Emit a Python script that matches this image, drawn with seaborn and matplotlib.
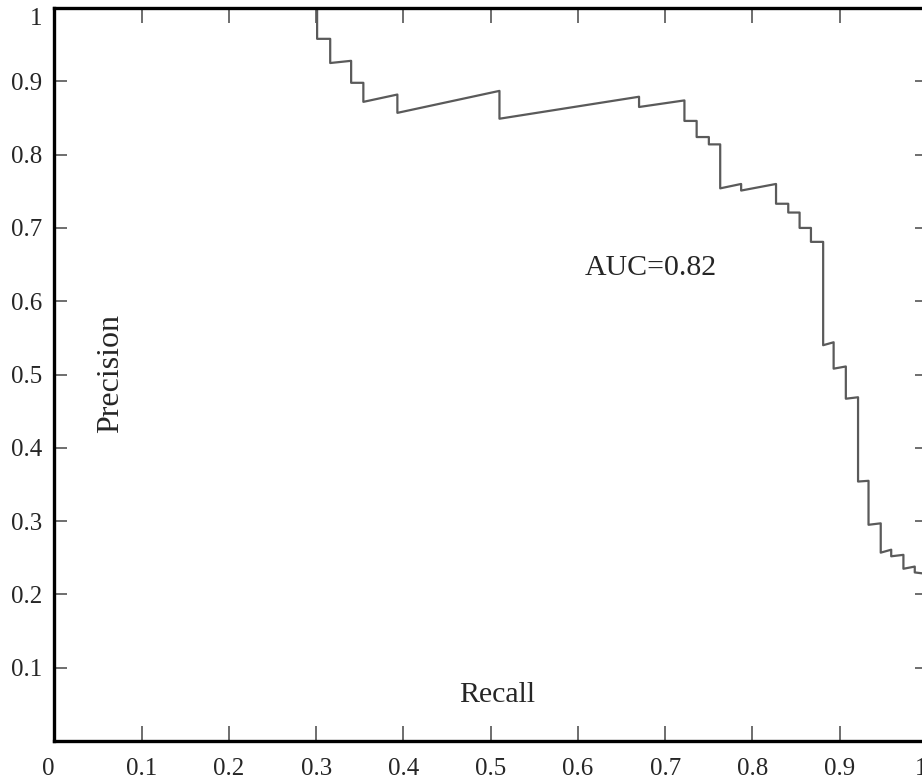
import matplotlib
matplotlib.use("Agg")
import matplotlib.pyplot as plt
import seaborn as sns
import pandas as pd

# precision-recall curve (vertical drops = repeated recall)
recall = [0.301, 0.301, 0.316, 0.316, 0.340, 0.340, 0.354, 0.354, 0.393, 0.393,
          0.510, 0.510, 0.670, 0.670, 0.722, 0.722, 0.736, 0.736, 0.750, 0.750,
          0.763, 0.763, 0.787, 0.787, 0.827, 0.827, 0.841, 0.841, 0.854, 0.854,
          0.867, 0.867, 0.881, 0.881, 0.893, 0.893, 0.907, 0.907, 0.921, 0.921,
          0.933, 0.933, 0.947, 0.947, 0.959, 0.959, 0.973, 0.973, 0.986, 0.986, 1.0]
precision = [1.0, 0.958, 0.958, 0.925, 0.928, 0.898, 0.898, 0.872, 0.882, 0.857,
             0.887, 0.849, 0.879, 0.865, 0.874, 0.846, 0.846, 0.824, 0.824, 0.814,
             0.814, 0.754, 0.760, 0.751, 0.760, 0.733, 0.733, 0.721, 0.721, 0.700,
             0.700, 0.681, 0.681, 0.540, 0.544, 0.508, 0.511, 0.467, 0.469, 0.354,
             0.355, 0.295, 0.297, 0.257, 0.261, 0.252, 0.254, 0.235, 0.238, 0.230, 0.228]

x_ticks = [0, 0.1, 0.2, 0.3, 0.4, 0.5, 0.6, 0.7, 0.8, 0.9, 1]
x_tick_labels = ['0', '0.1', '0.2', '0.3', '0.4', '0.5', '0.6', '0.7', '0.8', '0.9', '1']
y_ticks = [0.1, 0.2, 0.3, 0.4, 0.5, 0.6, 0.7, 0.8, 0.9, 1]
y_tick_labels = ['0.1', '0.2', '0.3', '0.4', '0.5', '0.6', '0.7', '0.8', '0.9', '1']
auc_text = 'AUC=0.82'

df = pd.DataFrame({'Recall': recall, 'Precision': precision})

sns.set_style("ticks")
plt.rcParams['font.family'] = ['Liberation Serif', 'DejaVu Serif']

fig = plt.figure(figsize=(9.22, 7.81), dpi=100)
ax = fig.add_axes([0.0591, 0.0512, 0.9463, 0.9385])

sns.lineplot(data=df, x='Recall', y='Precision', sort=False, estimator=None,
             color='#5a5a5a', linewidth=1.6, ax=ax)

ax.set_xlim(0, 1)
ax.set_ylim(0, 1)

ax.set_xticks(x_ticks)
ax.set_xticklabels(x_tick_labels)
ax.set_yticks(y_ticks)
ax.set_yticklabels(y_tick_labels)
ax.tick_params(axis='x', direction='in', length=11, width=1.2, color='#555555',
               labelsize=18, pad=12, top=True)
ax.tick_params(axis='y', direction='in', length=9, width=1.2, color='#555555',
               labelsize=18, pad=9, right=True)
# end labels sit just inside the corners, as in the original
xl = ax.get_xticklabels()
xl[0].set_horizontalalignment('right')
xl[-1].set_horizontalalignment('right')
ax.get_yticklabels()[-1].set_verticalalignment('top')

for s in ax.spines.values():
    s.set_linewidth(2.4)
    s.set_color('black')

ax.set_xlabel('Recall', fontsize=21.5)
ax.set_ylabel('Precision', fontsize=23)
ax.xaxis.set_label_coords(0.507, 0.063)
ax.yaxis.set_label_coords(0.064, 0.502)
ax.xaxis.label.set_verticalalignment('center')
ax.yaxis.label.set_verticalalignment('center')

ax.text(0.683, 0.645, auc_text, fontsize=21.5, ha='center', va='center')

fig.savefig('out.png', dpi=100)
